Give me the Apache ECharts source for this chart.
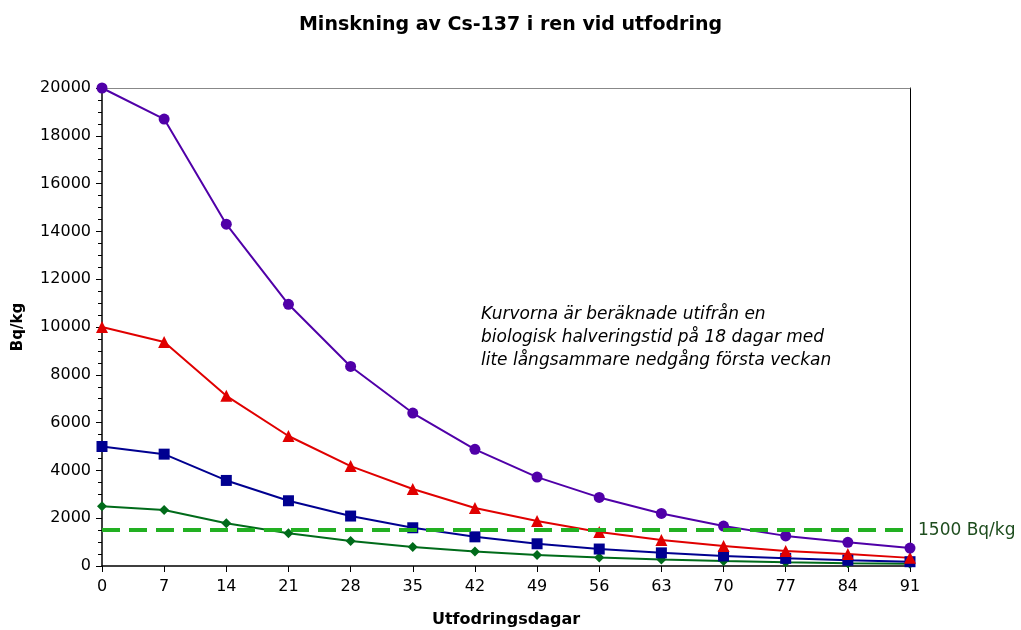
<!DOCTYPE html>
<html>
<head>
<meta charset="utf-8">
<script src="https://cdn.jsdelivr.net/npm/echarts@6/dist/echarts.min.js"></script>
<style>html,body{margin:0;padding:0;background:#fff;}#c{width:1021px;height:630px;}</style>
</head>
<body>
<div id="c"></div>
<script>
const days = ['0','7','14','21','28','35','42','49','56','63','70','77','84','91'];
const series20000 = [20000, 18700, 14300, 10950, 8350, 6400, 4880, 3720, 2870, 2200, 1670, 1260, 990, 750];
const series10000 = [10000, 9370, 7120, 5440, 4180, 3220, 2430, 1880, 1420, 1090, 840, 630, 500, 340];
const series5000 = [5000, 4680, 3580, 2730, 2090, 1600, 1220, 930, 710, 550, 420, 320, 240, 180];
const series2500 = [2500, 2340, 1790, 1370, 1050, 800, 610, 460, 360, 270, 210, 160, 120, 90];
const limitValue = 1500;
const limitLabel = '1500 Bq/kg';
const titleText = 'Minskning av Cs-137 i ren vid utfodring';
const xName = 'Utfodringsdagar';
const yName = 'Bq/kg';
const noteLines = ['Kurvorna är beräknade utifrån en', 'biologisk halveringstid på 18 dagar med', 'lite långsammare nedgång första veckan'];

const font = '"DejaVu Sans", Verdana, sans-serif';
const chart = echarts.init(document.getElementById('c'));
function line(data, color, symbol, size, extra) {
  return Object.assign({
    type: 'line', data: data, symbol: symbol, symbolSize: size,
    lineStyle: { color: color, width: 2 }, itemStyle: { color: color },
    animation: false, z: 3
  }, extra || {});
}
chart.setOption({
  animation: false,
  textStyle: { fontFamily: font },
  title: { text: titleText, left: 'center', top: 11, textStyle: { fontFamily: font, fontSize: 19, fontWeight: 'bold', color: '#000' } },
  grid: { left: 102, right: 111, top: 88, bottom: 64, containLabel: false, outerBoundsMode: 'none' },
  xAxis: [{
    type: 'category', data: days, boundaryGap: false,
    name: xName, nameLocation: 'middle', nameGap: 46,
    nameTextStyle: { fontFamily: font, fontSize: 16, fontWeight: 'bold', color: '#000' },
    axisLine: { lineStyle: { color: '#000', width: 1.5 } },
    axisTick: { show: true, alignWithLabel: true, length: 6, inside: false, lineStyle: { color: '#000' } },
    axisLabel: { fontFamily: font, fontSize: 16, color: '#000', margin: 13 },
    splitLine: { show: false }
  }, {
    type: 'category', data: days, boundaryGap: false, position: 'top',
    axisLine: { show: true, onZero: false, lineStyle: { color: '#888', width: 1 } },
    axisTick: { show: false }, axisLabel: { show: false }, splitLine: { show: false }
  }],
  yAxis: [{
    type: 'value', min: 0, max: 20000, interval: 2000,
    name: yName, nameLocation: 'middle', nameGap: 76,
    nameTextStyle: { fontFamily: font, fontSize: 15, fontWeight: 'bold', color: '#000' },
    axisLine: { show: true, lineStyle: { color: '#000', width: 1.5 } },
    axisTick: { show: true, length: 6, lineStyle: { color: '#000' } },
    minorTick: { show: true, splitNumber: 4, length: 4, lineStyle: { color: '#000' } },
    axisLabel: { fontFamily: font, fontSize: 16, color: '#000', margin: 11, formatter: v => String(v) },
    splitLine: { show: false }
  }, {
    type: 'value', min: 0, max: 20000, interval: 2000, position: 'right',
    axisLine: { show: true, onZero: false, lineStyle: { color: '#000', width: 1 } },
    axisTick: { show: false }, axisLabel: { show: false }, splitLine: { show: false }
  }],
  series: [
    line(series2500, '#006B1A', 'diamond', 10),
    line(series5000, '#000090', 'rect', 11),
    line(series10000, '#E00000', 'triangle', 12),
    line(series20000, '#5000A8', 'circle', 11, {
      markLine: {
        silent: true, symbol: 'none', animation: false,
        lineStyle: { color: '#22B022', type: [18, 9], width: 4 },
        label: { show: true, position: 'end', formatter: limitLabel, distance: 8, color: '#1E4D1E', fontFamily: font, fontSize: 17 },
        data: [{ yAxis: limitValue }]
      }
    })
  ],
  graphic: [{
    type: 'text', left: 481, top: 303, silent: true,
    style: { text: noteLines.join('\n'), font: 'italic 17px ' + font, lineHeight: 23, fill: '#000' }
  }]
});
</script>
</body>
</html>
